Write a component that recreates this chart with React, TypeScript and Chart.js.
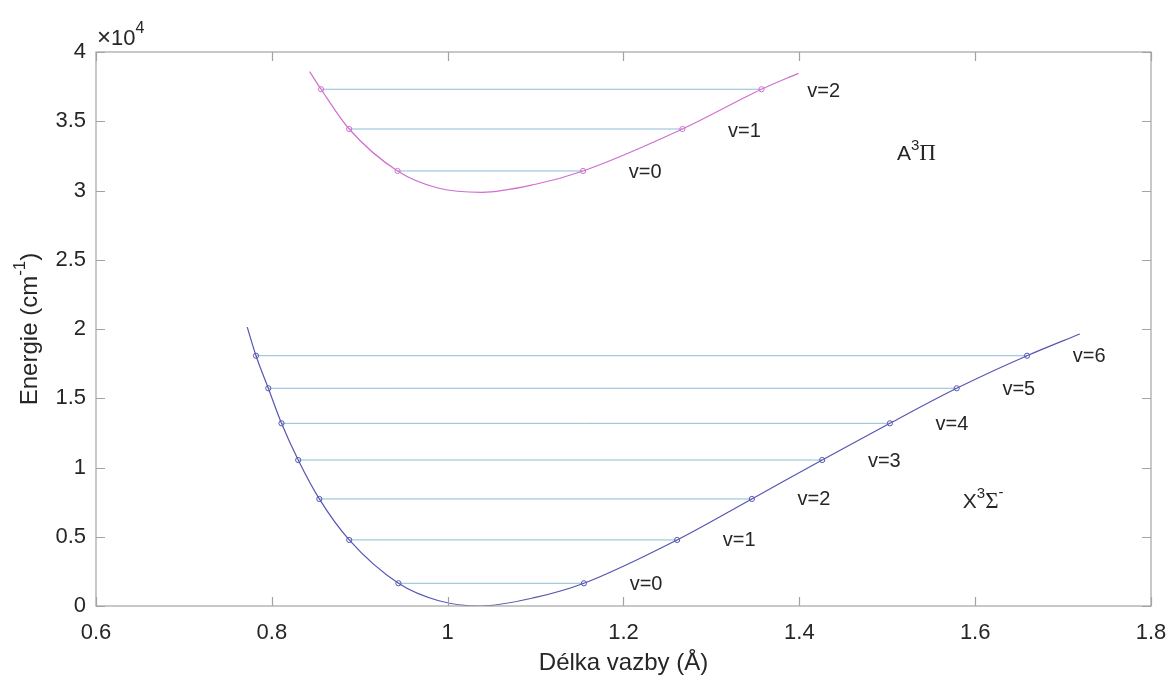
import React, { useEffect, useRef } from "react";
import { Chart, registerables } from "chart.js";

Chart.register(...registerables);

// ---- Data ----
// Ground state X3Σ- potential curve (bond length in Å, energy in cm^-1)
const lowerCurveX = [0.772, 0.782, 0.796, 0.811, 0.830, 0.854, 0.888, 0.944, 0.99, 1.037, 1.10, 1.155, 1.261, 1.346, 1.426, 1.503, 1.579, 1.659, 1.719];
const lowerCurveY = [20140, 18070, 15720, 13190, 10540, 7730, 4770, 1640, 380, 0, 620, 1640, 4770, 7730, 10540, 13190, 15720, 18070, 19640];
// Excited state A3Π potential curve
const upperCurveX = [0.843, 0.856, 0.888, 0.943, 0.99, 1.039, 1.10, 1.154, 1.267, 1.357, 1.399];
const upperCurveY = [38580, 37310, 34440, 31410, 30160, 29870, 30450, 31410, 34440, 37310, 38460];

// Vibrational levels
const lowerLevels = [1640, 4770, 7730, 10540, 13190, 15720, 18070];
const lowerLeft = [0.944, 0.888, 0.854, 0.830, 0.811, 0.796, 0.782];
const lowerRight = [1.155, 1.261, 1.346, 1.426, 1.503, 1.579, 1.659];
const lowerTags = ["v=0", "v=1", "v=2", "v=3", "v=4", "v=5", "v=6"];

const upperLevels = [31410, 34440, 37310];
const upperLeft = [0.943, 0.888, 0.856];
const upperRight = [1.154, 1.267, 1.357];
const upperTags = ["v=0", "v=1", "v=2"];

const xTicks = [0.6, 0.8, 1.0, 1.2, 1.4, 1.6, 1.8];
const yTicks = [0, 5000, 10000, 15000, 20000, 25000, 30000, 35000, 40000];

// ---- Styling ----
const LOWER_COLOR = "#5656b2";
const UPPER_COLOR = "#cf6fd0";
const LEVEL_COLOR = "#8cbcd6";
const AXIS_COLOR = "#a3a3a3";
const TEXT_COLOR = "#262626";
const SANS = '"Liberation Sans", Arial, Helvetica, sans-serif';
const SERIF = '"Liberation Serif", "Times New Roman", serif';
const LABEL_DX = 0.052;

type Part = { t: string; font: string; dy?: number };

function drawRich(ctx: CanvasRenderingContext2D, parts: Part[], x: number, y: number, align: "left" | "center") {
  let total = 0;
  for (const p of parts) {
    ctx.font = p.font;
    total += ctx.measureText(p.t).width;
  }
  let cx = align === "center" ? x - total / 2 : x;
  ctx.textAlign = "left";
  for (const p of parts) {
    ctx.font = p.font;
    ctx.fillText(p.t, cx, y + (p.dy || 0));
    cx += ctx.measureText(p.t).width;
  }
}

const overlay = {
  id: "overlay",
  afterDatasetsDraw(chart: any) {
    const { ctx, chartArea } = chart;
    const { left, right, top, bottom } = chartArea;
    const xs = chart.scales.x;
    const ys = chart.scales.y;
    ctx.save();
    // frame
    ctx.strokeStyle = AXIS_COLOR;
    ctx.lineWidth = 1.2;
    ctx.strokeRect(left, top, right - left, bottom - top);
    // inward ticks on all sides
    const TL = 9;
    ctx.beginPath();
    for (const v of xTicks) {
      const px = Math.round(xs.getPixelForValue(v)) + 0.5;
      ctx.moveTo(px, bottom);
      ctx.lineTo(px, bottom - TL);
      ctx.moveTo(px, top);
      ctx.lineTo(px, top + TL);
    }
    for (const v of yTicks) {
      const py = Math.round(ys.getPixelForValue(v)) + 0.5;
      ctx.moveTo(left, py);
      ctx.lineTo(left + TL, py);
      ctx.moveTo(right, py);
      ctx.lineTo(right - TL, py);
    }
    ctx.stroke();

    // level labels
    ctx.fillStyle = TEXT_COLOR;
    ctx.font = `20px ${SANS}`;
    ctx.textAlign = "left";
    ctx.textBaseline = "middle";
    lowerRight.forEach((r, i) => {
      ctx.fillText(lowerTags[i], xs.getPixelForValue(r + LABEL_DX), ys.getPixelForValue(lowerLevels[i]) + 1);
    });
    upperRight.forEach((r, i) => {
      ctx.fillText(upperTags[i], xs.getPixelForValue(r + LABEL_DX), ys.getPixelForValue(upperLevels[i]) + 2);
    });

    // state labels
    ctx.textBaseline = "alphabetic";
    drawRich(
      ctx,
      [
        { t: "A", font: `21px ${SANS}` },
        { t: "3", font: `15px ${SANS}`, dy: -10 },
        { t: "Π", font: `23px ${SERIF}` },
      ],
      xs.getPixelForValue(1.511),
      ys.getPixelForValue(32780) + 8,
      "left"
    );
    drawRich(
      ctx,
      [
        { t: "X", font: `21px ${SANS}` },
        { t: "3", font: `15px ${SANS}`, dy: -10 },
        { t: "Σ", font: `23px ${SERIF}` },
        { t: "-", font: `15px ${SANS}`, dy: -11 },
      ],
      xs.getPixelForValue(1.586),
      ys.getPixelForValue(7650) + 8,
      "left"
    );

    // exponent label
    drawRich(
      ctx,
      [
        { t: "×", font: `24px ${SANS}` },
        { t: "10", font: `22px ${SANS}` },
        { t: "4", font: `16px ${SANS}`, dy: -12 },
      ],
      left + 1,
      top - 7,
      "left"
    );

    // x title
    ctx.font = `24px ${SANS}`;
    ctx.textAlign = "center";
    ctx.textBaseline = "middle";
    ctx.fillText("Délka vazby (Å)", (left + right) / 2, 663);

    // y title (rotated)
    ctx.translate(30, (top + bottom) / 2);
    ctx.rotate(-Math.PI / 2);
    ctx.textBaseline = "middle";
    drawRich(
      ctx,
      [
        { t: "Energie (cm", font: `24px ${SANS}` },
        { t: "-1", font: `17px ${SANS}`, dy: -10 },
        { t: ")", font: `24px ${SANS}` },
      ],
      0,
      0,
      "center"
    );
    ctx.restore();
  },
};

export default function App() {
  const ref = useRef<HTMLCanvasElement | null>(null);

  useEffect(() => {
    if (!ref.current) return;
    const lowerCurve = lowerCurveX.map((x, i) => ({ x, y: lowerCurveY[i] }));
    const upperCurve = upperCurveX.map((x, i) => ({ x, y: upperCurveY[i] }));

    const levelSets: any[] = [];
    lowerLevels.forEach((e, i) => {
      levelSets.push({
        data: [
          { x: lowerLeft[i], y: e },
          { x: lowerRight[i], y: e },
        ],
        showLine: true,
        borderColor: LEVEL_COLOR,
        borderWidth: 1,
        pointRadius: 0,
        order: 3,
      });
    });
    upperLevels.forEach((e, i) => {
      levelSets.push({
        data: [
          { x: upperLeft[i], y: e },
          { x: upperRight[i], y: e },
        ],
        showLine: true,
        borderColor: LEVEL_COLOR,
        borderWidth: 1,
        pointRadius: 0,
        order: 3,
      });
    });

    const lowerMarks = [
      ...lowerLeft.map((x, i) => ({ x, y: lowerLevels[i] })),
      ...lowerRight.map((x, i) => ({ x, y: lowerLevels[i] })),
    ];
    const upperMarks = [
      ...upperLeft.map((x, i) => ({ x, y: upperLevels[i] })),
      ...upperRight.map((x, i) => ({ x, y: upperLevels[i] })),
    ];

    const chart = new Chart(ref.current, {
      type: "scatter",
      data: {
        datasets: [
          ...levelSets,
          {
            data: lowerCurve,
            showLine: true,
            borderColor: LOWER_COLOR,
            borderWidth: 1.2,
            pointRadius: 0,
            cubicInterpolationMode: "monotone",
            order: 2,
          },
          {
            data: upperCurve,
            showLine: true,
            borderColor: UPPER_COLOR,
            borderWidth: 1.2,
            pointRadius: 0,
            cubicInterpolationMode: "monotone",
            order: 2,
          },
          {
            data: lowerMarks,
            showLine: false,
            pointRadius: 2.6,
            pointBorderWidth: 1,
            pointBorderColor: LOWER_COLOR,
            pointBackgroundColor: "rgba(0,0,0,0)",
            order: 1,
          },
          {
            data: upperMarks,
            showLine: false,
            pointRadius: 2.6,
            pointBorderWidth: 1,
            pointBorderColor: UPPER_COLOR,
            pointBackgroundColor: "rgba(0,0,0,0)",
            order: 1,
          },
        ],
      },
      options: {
        responsive: false,
        animation: false,
        layout: { padding: { left: 0, top: 52, right: 22, bottom: 0 } },
        plugins: { legend: { display: false }, tooltip: { enabled: false } },
        scales: {
          x: {
            type: "linear",
            min: 0.6,
            max: 1.8,
            afterBuildTicks: (s: any) => {
              s.ticks = xTicks.map((v) => ({ value: v }));
            },
            afterFit: (s: any) => {
              s.height = 72;
              s.paddingLeft = 0;
              s.paddingRight = 0;
            },
            grid: { display: false, drawTicks: false },
            border: { display: false },
            ticks: {
              padding: 14,
              color: TEXT_COLOR,
              font: { family: SANS, size: 22 },
              callback: (v: any) => String(Math.round(Number(v) * 10) / 10),
            },
          },
          y: {
            type: "linear",
            min: 0,
            max: 40000,
            afterBuildTicks: (s: any) => {
              s.ticks = yTicks.map((v) => ({ value: v }));
            },
            afterFit: (s: any) => {
              s.width = 96;
              s.paddingTop = 0;
              s.paddingBottom = 0;
            },
            grid: { display: false, drawTicks: false },
            border: { display: false },
            ticks: {
              padding: 10,
              color: TEXT_COLOR,
              font: { family: SANS, size: 22 },
              callback: (v: any) => String(Number(v) / 10000),
            },
          },
        },
      },
      plugins: [overlay],
    } as any);
    return () => chart.destroy();
  }, []);

  return (
    <div style={{ position: "absolute", left: 0, top: 0, width: 1173, height: 678, background: "#fff" }}>
      <canvas ref={ref} width={1173} height={678} style={{ display: "block" }} />
    </div>
  );
}
